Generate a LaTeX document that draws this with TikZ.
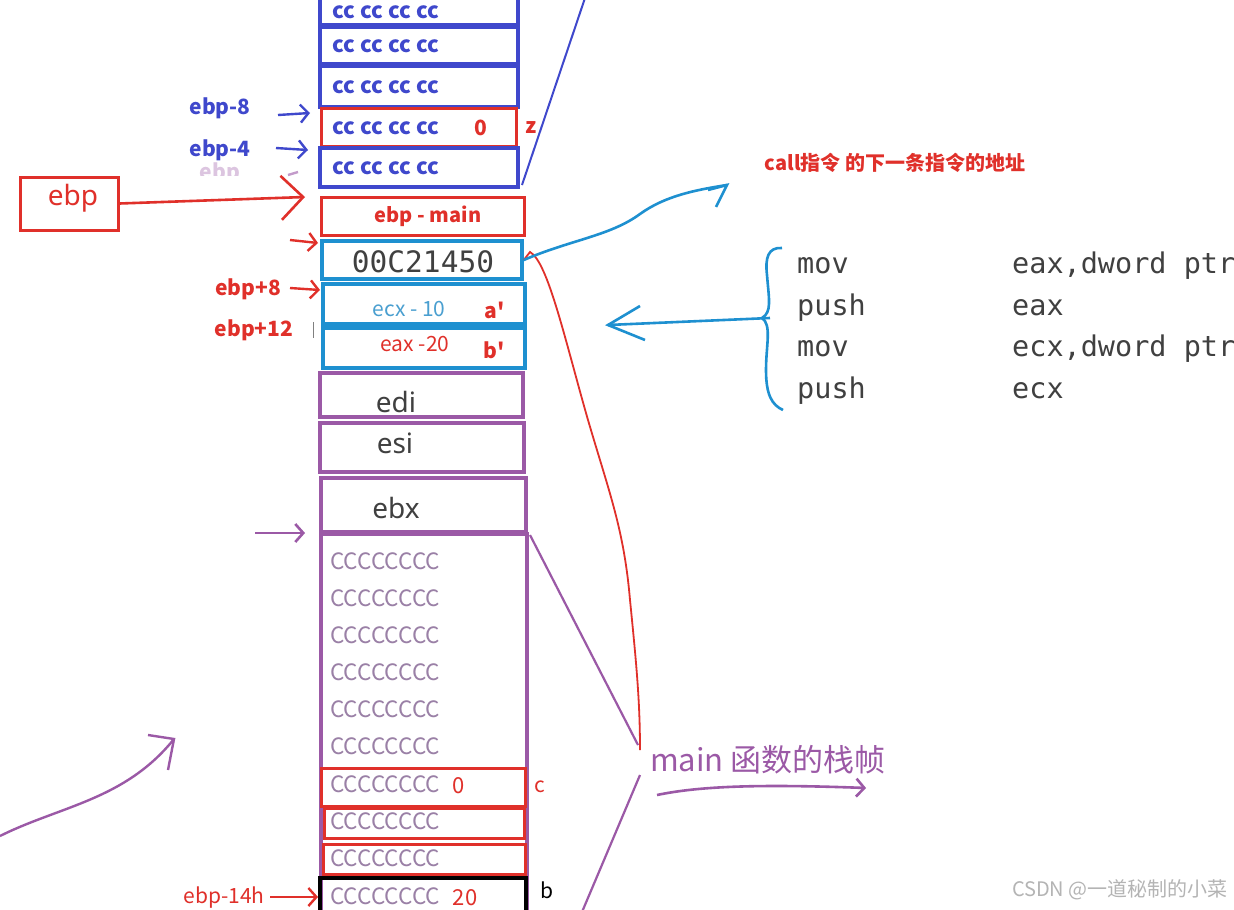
\documentclass[tikz,border=0pt]{standalone}
\usepackage{fontspec}
\setmainfont{Noto Sans}
\newfontfamily\cjk{Noto Sans CJK SC}
\newfontfamily\monof{DejaVu Sans Mono}
\usetikzlibrary{arrows.meta}
\definecolor{dblue}{HTML}{3F48CC}
\definecolor{sred}{HTML}{E0302A}
\definecolor{cyanb}{HTML}{1E90D0}
\definecolor{lcyan}{HTML}{4A9FD0}
\definecolor{purp}{HTML}{9B59A6}
\definecolor{txtgray}{HTML}{404040}
\definecolor{cgray}{HTML}{9A80A6}
\definecolor{wmgray}{HTML}{B4B4B4}
\tikzset{
  cell/.style={draw, rectangle, inner sep=0pt, line width=3.6pt},
  bluecell/.style={cell, draw=dblue},
  redcell/.style={cell, draw=sred, line width=3pt},
  cyancell/.style={cell, draw=cyanb},
  purpcell/.style={cell, draw=purp},
  blackcell/.style={cell, draw=black},
  cctext/.style={anchor=west, inner sep=0pt, text=dblue, font=\cjk\bfseries\fontsize{22}{24}\selectfont},
  Ctext/.style={anchor=west, inner sep=0pt, text=cgray, font=\cjk\fontsize{22.5}{24}\selectfont},
  regtext/.style={inner sep=0pt, text=txtgray, font=\fontsize{28}{30}\selectfont},
  bluelab/.style={inner sep=0pt, text=dblue, font=\cjk\bfseries\fontsize{21}{23}\selectfont},
  redlab/.style={inner sep=0pt, text=sred, font=\cjk\bfseries\fontsize{21}{23}\selectfont},
  codetext/.style={anchor=west, inner sep=0pt, text=txtgray, font=\monof\fontsize{28.5}{30}\selectfont},
  barb/.style={-{Straight Barb[length=8pt,width=18pt]}},
  bigbarb/.style={-{Straight Barb[length=22pt,width=44pt]}},
}
\begin{document}
\begin{tikzpicture}[x=1pt,y=-1pt]
\useasboundingbox (0,0) rectangle (1234,910);
\fill[white] (0,0) rectangle (1234,910);
\begin{scope}
\clip (0,0) rectangle (1234,910);

% ---------- blue cells ----------
\node[bluecell, minimum width=198pt, minimum height=37pt] (bb1) at (419,6.5) {};
\node[bluecell, minimum width=198pt, minimum height=37pt] (bb2) at (419,45.5) {};
\node[bluecell, minimum width=198pt, minimum height=41pt] (bb3) at (419,86.5) {};
\node[redcell, minimum width=195pt, minimum height=38pt] (bz) at (418.5,127) {};
\node[bluecell, minimum width=198pt, minimum height=39pt] (bb5) at (419,167.5) {};
\node[cctext] (t1) at (332,12) {cc cc cc cc};
\node[cctext] (t2) at (332,46) {cc cc cc cc};
\node[cctext] (t3) at (332,87) {cc cc cc cc};
\node[cctext] (t4) at (332,128) {cc cc cc cc};
\node[redlab] (z0) at (481,128) {0};
\node[redlab] (zl) at (531,128) {z};
\node[cctext] (t5) at (332,168) {cc cc cc cc};

\coordinate (bltop) at (585,-2);
\coordinate (blbot) at (522,185);
\draw[dblue, line width=2pt] (blbot) -- (bltop);

% labels left top
\node[bluelab] (ebpm8) at (220,108) {ebp-8};
\node[bluelab] (ebpm4) at (220,150) {ebp-4};
\begin{scope}
\clip (180,160) rectangle (260,175);
\node[inner sep=0pt, text=purp!35, font=\cjk\bfseries\fontsize{21}{23}\selectfont] (ghost) at (220,173) {ebp};
\end{scope}
\coordinate (a8s) at (278,115);
\coordinate (a8e) at (310,113);
\draw[dblue, line width=2.4pt, barb] (a8s) -- (a8e);
\coordinate (a4s) at (276,148);
\coordinate (a4e) at (308,150);
\draw[dblue, line width=2.4pt, barb] (a4s) -- (a4e);
\coordinate (d1) at (288,175);
\coordinate (d2) at (298,172);
\draw[purp!60, line width=2.4pt] (d1) -- (d2);

% ebp box
\node[draw=sred, line width=3pt, minimum width=98pt, minimum height=53pt, inner sep=0pt] (ebpbox) at (69,203.5) {};
\node[inner sep=0pt, text=sred, font=\fontsize{28}{30}\selectfont] (ebptxt) at (73,198) {ebp};
\coordinate (ebptip) at (305,197);
\draw[sred, line width=2.6pt, bigbarb] (ebpbox.east) -- (ebptip);

% ebp - main
\node[redcell, minimum width=203pt, minimum height=38pt] (emain) at (422.5,216) {};
\node[redlab, font=\cjk\bfseries\fontsize{20}{22}\selectfont] (emaint) at (428,216) {ebp - main};
\coordinate (r1s) at (290,240);
\coordinate (r1e) at (318,243);
\draw[sred, line width=2.4pt, barb] (r1s) -- (r1e);

% cyan cells
\node[cyancell, minimum width=200pt, minimum height=38pt] (addr) at (422,260) {};
\node[inner sep=0pt, text=txtgray, font=\monof\fontsize{29.5}{31}\selectfont] (addrt) at (423,262) {00C21450};
\node[cyancell, minimum width=202pt, minimum height=40pt] (ca) at (424,304) {};
\node[inner sep=0pt, text=lcyan, font=\cjk\fontsize{21}{23}\selectfont] (cat) at (409,309) {ecx - 10};
\node[redlab] (al) at (495,310) {a'};
\node[cyancell, minimum width=202pt, minimum height=40pt] (cb) at (424,348) {};
\node[inner sep=0pt, text=sred, font=\cjk\fontsize{21}{23}\selectfont] (cbt) at (415,344) {eax -20};
\node[redlab] (bl) at (494,350) {b'};

\node[redlab] (ebpp8) at (248,289) {ebp+8};
\node[redlab] (ebpp12) at (254,330) {ebp+12};
\coordinate (p8s) at (290,288);
\coordinate (p8e) at (320,290);
\draw[sred, line width=2.4pt, barb] (p8s) -- (p8e);
\coordinate (tk1) at (313,322);
\coordinate (tk2) at (313,338);
\draw[gray, line width=0.8pt] (tk1) -- (tk2);

% purple cells
\node[purpcell, minimum width=203pt, minimum height=44pt] (edi) at (421.5,395) {};
\node[regtext] (edit) at (396,402) {edi};
\node[purpcell, minimum width=204pt, minimum height=49pt] (esi) at (422,447.5) {};
\node[regtext] (esit) at (395,443) {esi};
\node[purpcell, minimum width=205pt, minimum height=54pt] (ebx) at (423.5,505) {};
\node[regtext] (ebxt) at (396,508) {ebx};
\node[purpcell, minimum width=206pt, minimum height=381pt] (big) at (424,724.5) {};
\coordinate (pas) at (255,533);
\coordinate (pae) at (305,533);
\draw[purp, line width=2.6pt, barb] (pas) -- (pae);

\node[redcell, minimum width=204pt, minimum height=38pt] (rc) at (423,787) {};
\node[redcell, minimum width=200pt, minimum height=30pt] (rc2) at (424,823) {};
\node[redcell, minimum width=202pt, minimum height=30pt] (rc3) at (424,859) {};
\node[blackcell, minimum width=206pt, minimum height=37pt] (bk) at (423,896.5) {};

\node[Ctext] (c1) at (330,561) {CCCCCCCC};
\node[Ctext] (c2) at (330,598) {CCCCCCCC};
\node[Ctext] (c3) at (330,635) {CCCCCCCC};
\node[Ctext] (c4) at (330,672) {CCCCCCCC};
\node[Ctext] (c5) at (330,709) {CCCCCCCC};
\node[Ctext] (c6) at (330,746) {CCCCCCCC};
\node[Ctext] (c7) at (330,784) {CCCCCCCC};
\node[Ctext] (c8) at (330,821) {CCCCCCCC};
\node[Ctext] (c9) at (330,858) {CCCCCCCC};
\node[Ctext] (c10) at (330,896) {CCCCCCCC};
\node[inner sep=0pt, text=sred, font=\cjk\fontsize{22}{24}\selectfont] (c0) at (459,786) {0};
\node[inner sep=0pt, text=sred, font=\cjk\fontsize{21}{23}\selectfont] (cl) at (540,787) {c};
\node[inner sep=0pt, text=sred, font=\cjk\fontsize{22}{24}\selectfont] (c20) at (465,898) {20};
\node[inner sep=0pt, text=black, font=\cjk\fontsize{21}{23}\selectfont] (blb) at (547,890) {b};
\node[inner sep=0pt, text=sred, font=\cjk\fontsize{21}{23}\selectfont] (e14) at (224,898) {ebp-14h};
\coordinate (e14s) at (270,897);
\coordinate (e14e) at (318,897);
\draw[sred, line width=2.4pt, barb] (e14s) -- (e14e);

% purple diagonal lines
\coordinate (pm1) at (638,745);
\coordinate (pm2) at (640,775);
\coordinate (pm3) at (582,912);
\draw[purp, line width=2.2pt] (530,535) -- (pm1);
\draw[purp, line width=2.2pt] (pm2) -- (pm3);

% red curve
\coordinate (rcend) at (640,750);
\draw[sred, line width=1.8pt] (addr.east) -- (530,252) .. controls (548,262) and (565,340) .. (588,420) .. controls (610,495) and (624,530) .. (630,600) .. controls (636,660) and (640,700) .. (rcend);

% blue curve to call label
\coordinate (bctip) at (727,185);
\draw[cyanb, line width=2.6pt] (addr.east) .. controls (570,240) and (610,236) .. (640,214) .. controls (665,196) and (695,190) .. (bctip);
\draw[cyanb, line width=2.6pt] (708,190) -- (bctip) -- (716,207);
\node[inner sep=0pt, text=sred, font=\cjk\bfseries\fontsize{20}{22}\selectfont] (calllab) at (895,163) {call指令 的下一条指令的地址};

% brace and code
\coordinate (brp) at (762,318);
\draw[cyanb, line width=2.6pt] (782,248) .. controls (768,247) and (765,258) .. (767,275) .. controls (769,300) and (772,312) .. (brp) .. controls (772,325) and (766,345) .. (766,370) .. controls (766,395) and (772,405) .. (783,410);
\coordinate (brs) at (770,318);
\coordinate (bre) at (608,325);
\draw[cyanb, line width=2.6pt] (brs) -- (bre);
\draw[cyanb, line width=2.6pt] (640,306) -- (bre) -- (645,340);

\node[codetext] (m1) at (797,266) {mov};
\node[codetext] (m1b) at (1012,266) {eax,dword ptr};
\node[codetext] (m2) at (797,308) {push};
\node[codetext] (m2b) at (1012,308) {eax};
\node[codetext] (m3) at (797,349) {mov};
\node[codetext] (m3b) at (1012,349) {ecx,dword ptr};
\node[codetext] (m4) at (797,391) {push};
\node[codetext] (m4b) at (1012,391) {ecx};

% main frame label
\node[anchor=west, inner sep=0pt, text=purp, font=\cjk\fontsize{31}{33}\selectfont] (mainlab) at (650,760) {main 函数的栈帧};
\coordinate (mas) at (657,795);
\coordinate (mae) at (866,788);
\draw[purp, line width=2.6pt, barb] (mas) .. controls (700,786) and (760,784) .. (mae);

% bottom-left purple arrow
\coordinate (bls) at (0,836);
\coordinate (ble) at (174,739);
\draw[purp, line width=2.4pt] (bls) .. controls (60,806) and (125,800) .. (ble);
\draw[purp, line width=2.4pt] (148,735) -- (ble) -- (168,770);

% watermark
\node[anchor=east, inner sep=0pt, text=wmgray, font=\cjk\fontsize{20}{22}\selectfont] (csdn) at (1228,890) {CSDN @一道秘制的小菜};
\end{scope}
\end{tikzpicture}
\end{document}
